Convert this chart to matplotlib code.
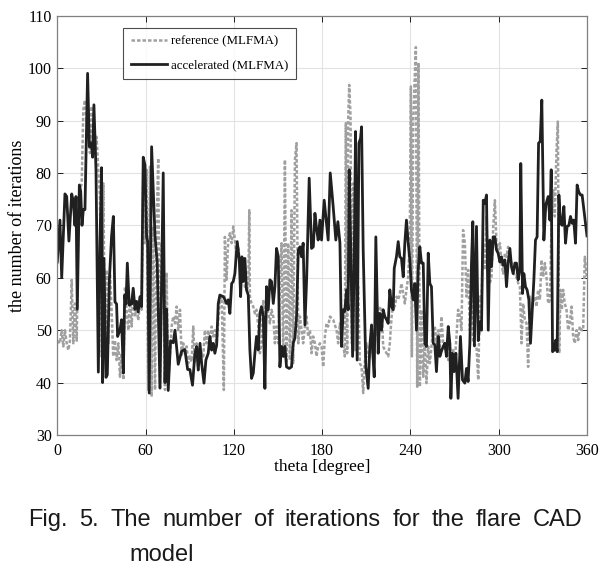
import matplotlib
matplotlib.use("Agg")
import matplotlib.pyplot as plt

# accelerated (MLFMA) - black solid
theta_acc = [0, 1.8, 3, 5.2, 6.4, 7.9, 9.8, 10.9, 12, 12.7, 13.6, 15, 15.9, 16.8, 17.7, 18.8, 20.6, 21.8, 23.1, 24,
             24.9, 26.3, 27.9, 29, 30.1, 30.8, 31.7, 33.1, 34, 35.4, 36.9, 38.1, 39.2, 40.3, 41, 42.6, 43.7, 44.9, 45.8, 46.7,
             47.6, 48.9, 50.5, 51.6, 52.8, 53.9, 55, 56.2, 57.3, 58.4, 59.6, 60.7, 61.4, 62.5, 64.1, 66.4, 67.9, 69.8, 72, 73.2,
             74.3, 75.4, 77, 78.8, 80, 82.2, 84.5, 86.7, 88.6, 90.1, 91.9, 93.5, 94.7, 95.8, 97, 98.1, 99.7, 101, 102.6, 103.7,
             104.9, 106, 107.1, 108.3, 109.4, 110.5, 112.8, 114, 115, 116.2, 117.3, 118.5, 119.6, 120.7, 122.3, 123.7, 124.6, 125.5, 126.4, 127.5,
             128.6, 129.8, 130.9, 132, 133.2, 134.3, 135.4, 136.6, 137.7, 138.8, 140, 141.1, 142.2, 143.4, 144.5, 145.6, 146.8, 147.9, 149, 150.2,
             151.3, 152.4, 153.6, 154.7, 155.8, 157.6, 159.2, 160.3, 161.5, 162.6, 163.8, 164.9, 166, 167.1, 168.3, 169.5, 171.2, 172.8, 174, 175.1,
             176.2, 177.3, 178.5, 179.6, 181.4, 183, 184.1, 185.5, 187.5, 189.3, 190.7, 192.1, 193.2, 194.3, 195.4, 196.6, 197.7, 198.4, 199.5, 200.7,
             201.8, 202.7, 203.8, 205, 206.1, 206.8, 207.9, 209.7, 211.3, 212.4, 213.6, 214.2, 215.4, 216.5, 218.1, 219.2, 220.4, 221.5, 222.6, 223.8,
             224.9, 226, 227.2, 228.3, 229, 230.5, 231.7, 232.8, 233.9, 235.1, 236.2, 237.3, 238.5, 239.6, 240.7, 241.9, 243, 244.1, 245.3, 246.4,
             247.5, 248.7, 249.8, 250.9, 252.1, 253.2, 254.3, 255.5, 256.6, 257.7, 258.9, 260, 261.1, 262.3, 263.4, 264.5, 265.7, 266.8, 267.5, 268.6,
             269.7, 270.9, 272.4, 274, 275.4, 277, 278.1, 279.2, 280.4, 281.5, 282.4, 283.5, 284.9, 286.1, 287.2, 288.3, 289.5, 290.6, 291.7, 292.9,
             294, 295.1, 296.3, 297.4, 298.5, 299.6, 300.8, 301.9, 303, 304.2, 305.3, 306.4, 307.6, 308.7, 309.8, 311, 312.1, 313.2, 314.4, 315,
             316.2, 317.1, 318.2, 319.3, 320.5, 321.6, 322.7, 323.9, 325, 326.1, 327.1, 328.2, 329.3, 330.7, 332, 333.6, 334.8, 335.7, 336.6, 337.7,
             338.8, 339.7, 340.9, 342, 343.1, 344.3, 345.4, 346.5, 347.7, 348.8, 349.9, 351, 352.2, 353.3, 354.4, 355.6, 356.7, 357.9, 360]
iter_acc = [63, 71, 60, 76, 75.5, 67, 76, 74.5, 70, 75.5, 54, 77.7, 76.5, 70, 73, 73, 99, 85, 85.7, 83,
            93, 80.6, 42, 66.6, 81, 40, 63.7, 41, 41.5, 59.6, 68, 71.7, 55.4, 55, 48.8, 50, 52, 41.8, 56.7, 55,
            62.8, 54.8, 55, 58, 54, 55.5, 53.5, 56.4, 54.5, 83, 81.5, 67.8, 67, 38, 85, 68, 63, 39, 80, 40,
            54, 38.5, 48, 47.6, 50, 43.5, 46, 46.3, 42.5, 42.5, 39.5, 45.5, 46.9, 42.4, 47.5, 43.7, 39.9, 44.3, 45.6, 48.8,
            46.2, 47.5, 45.6, 47.2, 55.1, 56.7, 56.4, 55.8, 55.1, 55.8, 53.2, 58.9, 59.3, 60.8, 66.9, 63.4, 56.4, 64, 59.3, 63.7,
            57.7, 56.7, 46.2, 40.8, 41.8, 45.6, 48.8, 46.2, 53.2, 54.5, 52.6, 38.9, 58.3, 53.9, 59.6, 59.3, 55.1, 58.3, 65.6, 64,
            43, 46.9, 45, 46.9, 43, 42.7, 43, 47.5, 48.5, 52.6, 65.3, 65.9, 64, 66.6, 51, 60, 79, 65.6, 65.9, 72.3,
            69.4, 67.2, 71, 67.2, 74.8, 70.4, 67.2, 80, 73.6, 67.2, 70.7, 66.6, 46.9, 53.9, 53.6, 57.7, 53.9, 80.6, 64.7, 45,
            63.4, 87.9, 44.3, 85.7, 86.6, 88.8, 65.3, 43, 38.9, 46.9, 51, 46.9, 41.1, 67.8, 45.6, 53.2, 50, 53.9, 52.6, 52,
            51.3, 57.7, 54.5, 53.9, 61.8, 64, 66.9, 64, 63.7, 60.2, 66.6, 71, 66.6, 63.4, 57.7, 55.8, 58.9, 50, 61.5, 65.9,
            62.8, 62.8, 47.5, 46.9, 64.7, 58.9, 58.3, 47.5, 47.2, 42.1, 48.8, 45, 46, 46.9, 47.5, 45, 50.7, 47.5, 37, 45.6,
            42.1, 45.6, 37, 48.8, 40.5, 39.9, 42.7, 40.2, 47.5, 62.8, 70.7, 47, 69.8, 48, 51.6, 50, 74.8, 74.2, 75.8, 50,
            67.2, 62.1, 67.8, 67.8, 65.3, 64.7, 63, 64, 62.4, 63.4, 58.3, 62.8, 65.6, 62.1, 60.8, 62.8, 62.8, 59.6, 61.5, 81.8,
            57, 60.8, 58.3, 57.7, 55.8, 47.5, 53.2, 59.6, 67.2, 67.8, 85.7, 86, 93.9, 67.2, 73.9, 75.5, 71, 80.6, 45.9, 46.2,
            48.1, 45.9, 75.8, 70.4, 70, 73.6, 66.6, 69.8, 70, 71.7, 70.4, 71, 66.6, 77.7, 76.4, 75.8, 75.8, 73, 68]

# reference (MLFMA) - gray dotted
theta_ref = [0, 1.8, 3, 4.1, 5.2, 6.4, 7.5, 8.6, 9.8, 10.9, 12, 13.2, 14.3, 15.4, 16.6, 17.7, 18.8, 19.9, 21.1, 22.2,
             23.3, 24.5, 25.6, 26.7, 27.9, 29, 30.1, 31.3, 32.4, 33.5, 34.7, 35.8, 36.9, 38, 39.2, 40.3, 41.5, 42.6, 43.7, 44.9,
             46, 47.1, 48.3, 49.4, 50.5, 51.7, 52.8, 53.9, 55, 56.2, 57.3, 58.5, 59.6, 60.7, 61.8, 63, 64.1, 65.2, 66.4, 67.5,
             68.6, 69.8, 70.9, 72, 73.2, 74.3, 75.4, 77.7, 78.8, 80, 81.1, 82.2, 83.4, 84.5, 85.6, 86.7, 87.9, 89, 90.1, 91.3,
             92.4, 93.5, 94.7, 95.8, 97, 99.2, 100.3, 101.5, 102.6, 103.7, 104.9, 106, 107.1, 108.3, 109.4, 110.5, 111.7, 113.2, 113.9, 115,
             116.2, 117.3, 118.5, 119.6, 120.7, 121.9, 123, 124.1, 125.3, 126.4, 127.5, 128.6, 129.8, 130.5, 130.9, 132, 133.2, 134.3, 135.4, 136.6,
             137.7, 138.8, 140, 141.1, 142.2, 144.5, 145.6, 146.8, 147.9, 149, 150.2, 151.3, 152.4, 153.6, 154.7, 155.8, 156.9, 158.1, 159.2, 160.3,
             161.5, 162.6, 163.8, 164.9, 166, 167.1, 168.3, 169.4, 170.5, 171.7, 172.8, 173.9, 175.1, 176.2, 177.3, 178.5, 179.6, 180.7, 181.9, 183,
             184.1, 185.3, 187.5, 189.8, 190.9, 192.1, 193.2, 194.3, 195.4, 196.1, 197, 197.7, 198.4, 199.3, 200.2, 201.1, 202.2, 203.4, 204.5, 205.6,
             206.8, 207.9, 208.6, 210.2, 211.3, 212.4, 213.6, 214.7, 215.8, 217, 218.1, 219.2, 220.4, 221.5, 222.6, 223.8, 224.9, 226, 227.2, 228.3,
             229.4, 230.5, 231.7, 232.8, 233.9, 235.1, 236.2, 237.3, 238.5, 239.6, 240.3, 241, 241.9, 243.7, 244.6, 245.5, 246.4, 247.5, 248.7, 249.8,
             250.9, 252.1, 253.2, 254.3, 255.5, 256.6, 257.7, 258.9, 260, 261.1, 262.3, 263.4, 264.5, 265.7, 266.8, 267.9, 269, 270.2, 271.3, 272.4,
             273.6, 274.7, 275.8, 277, 278.1, 279.2, 280.4, 281.5, 282.6, 284.9, 286.1, 287.2, 288.3, 289.5, 290.6, 291.7, 292.9, 294, 295.1, 296.3,
             297.4, 298.5, 299.6, 300.8, 301.9, 303, 304.2, 305.3, 306.4, 307.6, 308.7, 309.8, 311, 312.1, 313.2, 314.4, 315.5, 316.6, 317.8, 318.9,
             320, 321.2, 322.3, 323.4, 324.6, 325.7, 326.8, 328, 329.1, 330.2, 331.4, 332.5, 333.6, 334.8, 335.9, 337, 338.1, 339.3, 340.2, 341.1,
             342, 342.9, 343.8, 344.9, 346.1, 347.2, 348.3, 349.5, 350.6, 351.7, 352.9, 354, 355.1, 356.3, 357.4, 358.5, 360]
iter_ref = [48, 47.5, 50, 46.9, 50, 47.5, 46.2, 48, 59.6, 47.5, 55.1, 48, 70.4, 76.7, 78, 92, 93.9, 90, 92, 83.8,
            92.7, 86.9, 84.4, 86.9, 80.6, 75.5, 45, 78, 45, 61.5, 47.5, 60.8, 53.9, 45, 48.1, 44.3, 47.5, 41.1, 45.6, 40.5,
            58.3, 53.9, 50, 55.8, 50.7, 57.7, 52.6, 54.5, 51.9, 55.1, 53.9, 81.2, 66.6, 80.6, 38.6, 81.2, 37.3, 69.8, 38.6, 70.4,
            82.8, 38.6, 66.6, 61.5, 38.6, 61, 39.9, 50.7, 52.6, 51.3, 54.5, 50, 53.9, 45, 47.5, 45.6, 46.9, 43.7, 45, 44,
            50.7, 43.7, 47.5, 42.4, 46.2, 45, 50, 47.5, 50, 46.9, 50.7, 48.8, 50, 46.9, 51.9, 55.8, 56.4, 38.6, 67.8, 59.6,
            67.2, 68.5, 66.6, 69.8, 67.2, 64, 65.9, 62.1, 60.2, 60.8, 58.3, 57.7, 58.3, 72.9, 56.4, 55.1, 54.5, 53.2, 53.9, 50.7,
            45.6, 47.5, 55.8, 51.3, 55.1, 51.3, 53.9, 52.6, 47.5, 50.7, 47.5, 59, 66.6, 45, 82.5, 43.7, 66.6, 44.3, 72.9, 43.7,
            82.5, 85.7, 47.5, 52.6, 50, 47.5, 50.7, 52.6, 48.8, 50, 45.6, 48.8, 47.5, 45, 46.9, 47.5, 46.9, 43, 48.8, 51.3,
            50.7, 52.6, 52, 50, 47.5, 51.3, 48.1, 47.5, 45, 89.5, 45.6, 90.2, 96.8, 90.8, 47.5, 78, 46.2, 53.9, 58.3, 43.7,
            43, 38, 42.4, 47.5, 45, 45, 46.9, 44.3, 47.5, 52.6, 48.8, 54.5, 53.9, 46.9, 46.2, 45.6, 45, 47.5, 52.6, 55.1,
            54.5, 56.4, 55.8, 57, 58.9, 57, 55.1, 57.7, 60.2, 67.8, 96.5, 45, 90.2, 104, 39.2, 101, 39.2, 53.9, 41.1, 47.5,
            39.9, 46.9, 43.7, 46.9, 50, 50.7, 47.5, 50, 46.9, 52.6, 47.5, 46.2, 46.9, 44.3, 47.5, 43.7, 46.2, 44.3, 48.8, 53.9,
            52.6, 50, 69.1, 66.6, 56.4, 61.5, 50, 59.6, 47.5, 46.9, 40.5, 56.4, 55.8, 66.6, 61.5, 71.7, 59, 59, 60.2, 69.8,
            74.8, 66.6, 65.3, 66.6, 62.8, 60.8, 64.7, 64, 65.9, 64, 62.8, 61.5, 60.2, 60.2, 59, 58.3, 47.5, 55.1, 51.9, 51.3,
            43, 56.4, 53.9, 55.1, 56.4, 54.5, 57.7, 55.8, 63.4, 60.2, 62.8, 60.2, 55.1, 55.8, 69.8, 76.7, 71.7, 84.4, 89.8, 45.6,
            57.7, 53.9, 57.7, 55.1, 53.9, 50, 51.3, 54.5, 48.8, 47.5, 50, 48.1, 50.7, 50, 50, 64, 60]

x_ticks = [0, 60, 120, 180, 240, 300, 360]
y_ticks = [30, 40, 50, 60, 70, 80, 90, 100, 110]
caption_line1 = "Fig. 5. The number of iterations for the flare CAD"
caption_line2 = "model"

serif = "Liberation Serif"

fig = plt.figure(figsize=(6.16, 5.73), dpi=100)
ax = fig.add_axes([0.093, 0.2408, 0.8599, 0.7318])

ax.plot(theta_ref, iter_ref, color="#a0a0a0", lw=1.8, linestyle=(0, (1.4, 0.8)),
        label="reference (MLFMA)")
ax.plot(theta_acc, iter_acc, color="#202020", lw=2.0, label="accelerated (MLFMA)")

ax.set_xlim(0, 360)
ax.set_ylim(30, 110)
ax.set_xticks(x_ticks)
ax.set_yticks(y_ticks)
ax.grid(True, color="#e2e2e2", lw=0.8)
ax.set_axisbelow(True)
ax.tick_params(direction="in", top=True, right=True, length=4, width=0.6, pad=4,
               labelsize=11.5)
for lab in ax.get_xticklabels() + ax.get_yticklabels():
    lab.set_fontfamily(serif)
ax.tick_params(axis="x", pad=6)
for sp in ax.spines.values():
    sp.set_color("#808080")
    sp.set_linewidth(0.9)

ax.set_xlabel("theta [degree]", fontsize=12.5, family=serif)
ax.xaxis.set_label_coords(0.5, -0.056)
ax.set_ylabel("the number of iterations", fontsize=13, family=serif)
ax.yaxis.set_label_coords(-0.06, 0.5)

leg = ax.legend(loc="upper left", bbox_to_anchor=(0.124, 0.971), borderaxespad=0,
                frameon=True, fancybox=False, handlelength=2.8, handletextpad=0.3,
                labelspacing=0.9, borderpad=0.6, prop={"family": serif, "size": 9.3})
leg.get_frame().set_edgecolor("#202020")
leg.get_frame().set_linewidth(0.8)

# caption, justified between x=28 and x=583 px
cap_font = {"family": "Liberation Sans", "size": 17}
words = caption_line1.split()
texts = [fig.text(0, 1 - 526 / 573, w, va="baseline", ha="left", color="#1a1a1a", **cap_font)
         for w in words]
fig.canvas.draw()
renderer = fig.canvas.get_renderer()
widths = [t.get_window_extent(renderer).width for t in texts]
gap = (583 - 28 - sum(widths)) / (len(words) - 1)
x = 28
for t, w in zip(texts, widths):
    t.set_x(x / 616)
    x += w + gap
fig.text(129 / 616, 1 - 561 / 573, caption_line2, va="baseline", ha="left",
         color="#1a1a1a", **cap_font)

fig.savefig("out.png", dpi=100)
